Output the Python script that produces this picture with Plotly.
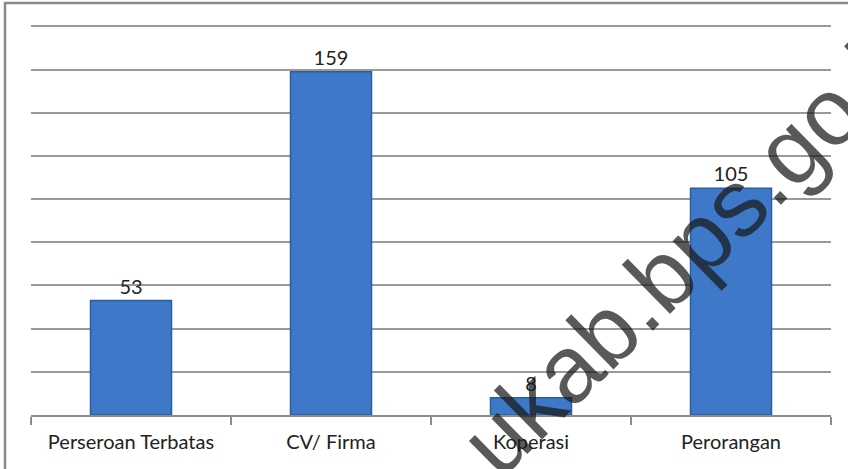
import plotly.graph_objects as go

categories = ["Perseroan Terbatas", "CV/ Firma", "Koperasi", "Perorangan"]
values = [53, 159, 8, 105]
watermark = "ukab.bps.go.id"

W, H = 848, 469
L, R, T, B = 31, 17, 22, 54
pw, ph = W - L - R, H - T - B

def px(x):
    return (x - L) / pw

def py(y):
    return (H - B - y) / ph

FONT = "Lato, Open Sans, sans-serif"

fig = go.Figure()
fig.add_trace(go.Bar(
    x=categories, y=values,
    marker=dict(color="#3d79c8", line=dict(color="#2c5e9f", width=1.5)),
    width=0.405,
    text=[str(v) for v in values], textposition="outside",
    textfont=dict(family=FONT, size=20, color="#222"),
    cliponaxis=False,
))

fig.update_layout(
    width=W, height=H,
    margin=dict(l=L, r=R, t=T, b=B),
    paper_bgcolor="white", plot_bgcolor="white",
    showlegend=False,
    xaxis=dict(
        showline=True, linecolor="#8c8c8c", linewidth=1.5,
        ticks="outside", tickson="boundaries", ticklen=8, tickcolor="#8c8c8c", tickwidth=1.5,
        tickfont=dict(family=FONT, size=20, color="#222"),
        ticklabelstandoff=8,
        showgrid=False,
    ),
    yaxis=dict(
        range=[0, 182], tickvals=[20, 40, 60, 80, 100, 120, 140, 160, 180],
        showticklabels=False,
        showgrid=True, gridcolor="#9a9a9a", gridwidth=1.5,
        zeroline=False, showline=False,
    ),
    shapes=[dict(
        type="rect", xref="paper", yref="paper",
        x0=px(5), x1=px(852), y0=py(475), y1=py(3),
        line=dict(color="#8a8a8a", width=2.5), fillcolor="rgba(0,0,0,0)", layer="above",
    )],
    annotations=[dict(
        text=watermark, xref="paper", yref="paper",
        x=px(697), y=py(241), xanchor="center", yanchor="middle",
        showarrow=False, textangle=-44.5,
        font=dict(family="Liberation Sans, Arial, sans-serif", size=95, color="rgba(25,25,25,0.72)"),
    )],
)

fig.write_html("out.html", config={"displayModeBar": False},
               post_script="document.body.style.margin='0px';")
